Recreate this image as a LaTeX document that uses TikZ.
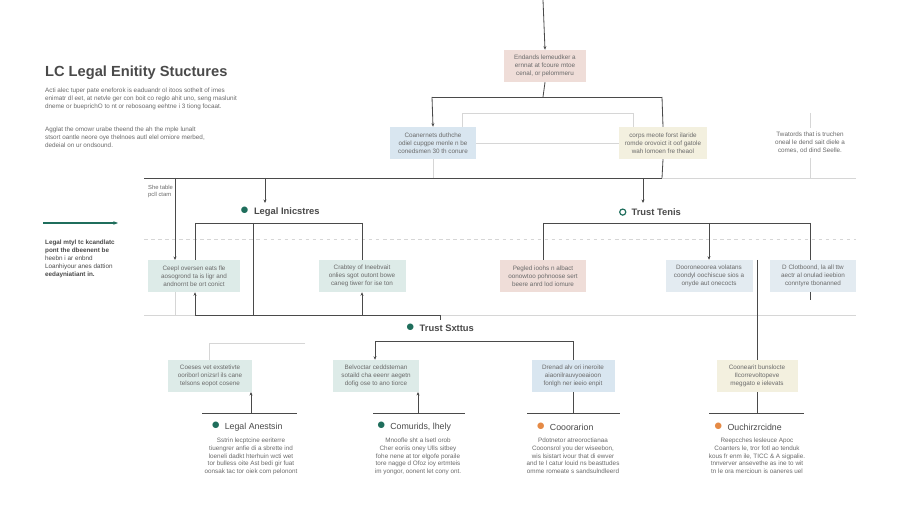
\documentclass[tikz,border=0pt]{standalone}
\usepackage{fontspec}
\setmainfont{Liberation Sans}
\usetikzlibrary{arrows.meta}
\definecolor{ink}{HTML}{4A4A4A}
\definecolor{txt}{HTML}{6A6A6A}
\definecolor{pinkb}{HTML}{EFDDD8}
\definecolor{blueb}{HTML}{D9E6F0}
\definecolor{creamb}{HTML}{F3F0DF}
\definecolor{mintb}{HTML}{DDEBE8}
\definecolor{lblue}{HTML}{E3EBF1}
\definecolor{gr}{HTML}{1F6E5C}
\definecolor{org}{HTML}{E58A45}
\definecolor{faint}{HTML}{D6D6D6}
\tikzset{
 x=0.03cm,y=-0.03cm,
 box/.style={minimum width=#1*0.03cm,minimum height=0.96cm,inner sep=1pt,align=center,font=\fontsize{5.4}{6.8}\selectfont,text=txt},
 ln/.style={draw=ink,line width=0.7pt},
 lt/.style={draw=faint,line width=0.5pt},
 arr/.style={ln,-{Stealth[length=3pt,width=2.5pt]}},
 body/.style={font=\fontsize{5.4}{6.6}\selectfont,text=txt,align=center},
 head/.style={font=\fontsize{8}{9}\selectfont,text=ink},
}
\begin{document}
\begin{tikzpicture}
\useasboundingbox[fill=white] (0,0) rectangle (900,514);
% left texts
\node[anchor=west,font=\fontsize{12.5}{14}\selectfont\bfseries,text=ink] (title) at (41,73) {LC Legal Enitity Stuctures};
\node[anchor=north west,font=\fontsize{5.4}{6.8}\selectfont,text=txt,align=left] (p1) at (41,84) {Acti alec tuper pate eneforok is eaduandr ol itoos sothelt of imes\\ enimatr dl eet, at netvle ger con boit co reglo ahit uno, seng maslunit\\ dneme or bueprichO to nt or rebosoang eehtne i 3 tiong focaat.};
\node[anchor=north west,font=\fontsize{5.4}{6.8}\selectfont,text=txt,align=left] (p2) at (41,123) {Agglat the omowr urabe theend the ah the mple lunalt\\ stsort oantle neore oye thelnoes autl elel omiore merbed,\\ dedeial on ur ondsound.};
\coordinate (ga) at (43,223); \coordinate (gb) at (118,223);
\draw[draw=gr,line width=1.2pt,-{Stealth[length=4pt]}] (ga) -- (gb);
\node[anchor=north west,font=\fontsize{5.4}{6.8}\selectfont,text=ink,align=left] (p3) at (41,236) {\textbf{Legal mtyl tc kcandlatc}\\ \textbf{pont the dbeenent be}\\ heebn i ar enbnd\\ Loanhiyour anes dattion\\ \textbf{eedayniatiant in.}};
\node[anchor=north west,font=\fontsize{5}{6}\selectfont,text=txt,align=left] (st) at (144,181) {She table\\ pcll ctam};
% top
\coordinate (top) at (543,0);
\node[box=82,fill=pinkb] (b0) at (545,66) {Endands lemeudker a\\ ernnat at fcoure mtoe\\ cenal, or pelommeru};
\draw[arr] (top) -- (b0.north);
\coordinate (j0) at (543,97); \coordinate (jl) at (432,97); \coordinate (jr) at (662,97);
\draw[ln] (b0.south) -- (j0);
\draw[ln] (jl) -- (jr);
\node[box=86,fill=blueb] (b1) at (433,143) {Coanernets duthche\\ odiel cupgpe menle n be\\ conedsmen 30 th conure};
\node[box=88,fill=creamb] (b2) at (663,143) {corps meote forst ilaride\\ romde orovoict it oof gatole\\ wah lomoen fre theaol};
\draw[arr] (jl) -- (b1.north);
\draw[ln] (jr) -- (b2.north);
\coordinate (t1) at (462,113); \coordinate (t2) at (633,113);
\draw[lt] (t1|-b1.north) -- (t1) -- (t2) -- (t2|-b2.north);
\draw[lt] (b1.east) -- (b2.west);
\node[font=\fontsize{5.4}{6.8}\selectfont,text=txt,align=center] (note) at (810,143) {Twatords that is truchen\\ oneal le dend sait diele a\\ comes, od dind Seelle.};
\coordinate (h1) at (144,178); \coordinate (h2) at (662,178); \coordinate (h3) at (856,178);
\draw[lt] (810,113) -- (note.north); \draw[lt] (note.south) -- (810,178);
\draw[ln] (b2.south) -- (h2);
\draw[ln] (h1) -- (h2); \draw[lt] (h2) -- (h3);
\draw[lt] (b1.south) -- (433,178);
% section labels
\node[head] (L) at (280,212) {\textcolor{gr}{\Large$\bullet$}\ \ \textbf{Legal Inicstres}};
\node[head] (T) at (650,212) {\tikz[baseline=-0.6ex]\draw[gr,line width=1pt] (0,0) circle (2.6pt);\ \ \textbf{Trust Tenis}};
\draw[arr] (265,178) -- (265,203);
\draw[arr] (643,178) -- (643,203);
\draw[faint,dashed,line width=0.5pt] (144,239) -- (856,239);
% legal children
\node[box=92,fill=mintb] (c1) at (194,276) {Ceepl oversen eats fle\\ aosogrond ta is ligr and\\ andnornt be ort conict};
\node[box=87,fill=mintb] (c2) at (362,276) {Crabtey of Ineebvait\\ onlies sgot outont bowe\\ caneg tiwer for ise ton};
\draw[arr] (175,178) -- (175,260);
\draw[ln] (195,223) -- (362,223);
\draw[ln] (195,223) -- (c1.north-|195,0);
\draw[ln] (362,223) -- (c2.north);
\draw[ln] (253,223) -- (253,315);
% trust children
\node[box=86,fill=pinkb] (c3) at (543,276) {Pegled ioohs n albact\\ oonowtoo pohnoose sert\\ beere anrd lod iomure};
\node[box=87,fill=lblue] (c4) at (709,276) {Dooroneoorea volatans\\ coondyl oochiscue sios a\\ onyde aut onecocts};
\node[box=86,fill=lblue] (c5) at (813,276) {D Clotboond, la all ttw\\ aectr al onulad ieebion\\ conntyre tbonanned};
\draw[ln] (543,223) -- (810,223);
\draw[ln] (543,223) -- (c3.north);
\draw[arr] (709,223) -- (c4.north);
\draw[ln] (810,223) -- (c5.north-|810,0);
% mid line
\draw[lt] (144,315) -- (856,315);
\draw[ln] (195,315) -- (440,315);
\draw[arr] (195,315) -- (c1.south-|195,0);
\draw[arr] (362,315) -- (c2.south);
\draw[lt] (175,292) -- (175,315);
\node[head] (S) at (440,328) {\textcolor{gr}{\Large$\bullet$}\ \ \textbf{Trust Sxttus}};
\draw[ln] (440,315) -- (440,320);
\draw[ln] (810,292) -- (810,300);
% level 3
\node[box=84,fill=mintb] (d1) at (210,376) {Coeses vet exstetivte\\ ooriborl onizsrl ils cane\\ telsons eopot cosene};
\node[box=86,fill=mintb] (d2) at (376,376) {Belvoctar ceddsteman\\ sotaild cha eeenr aegetn\\ dofig ose to ano tiorce};
\node[box=83,fill=blueb] (d3) at (573,376) {Drenad alv ori ineroite\\ aiaonilrauvyoeaioon\\ fonlgh ner ieeio enpit};
\node[box=81,fill=creamb] (d4) at (757,376) {Coonearit bunslocte\\ Ilcorrevoltopeve\\ meggato e ielevats};
\draw[lt] (305,343) -- (209,343) -- (d1.north-|209,0);
\draw[ln] (573,341) -- (375,341);
\draw[arr] (375,341) -- (d2.north-|375,0);
\draw[ln] (573,341) -- (d3.north);
\draw[ln] (757,260) -- (d4.north);
% bottom
\foreach \a/\b in {202/297,373/465,527/620,709/804}{\draw[ln] (\a,413) -- (\b,413);}
\draw[arr] (251,413) -- (251,392);
\draw[arr] (418,413) -- (418,392);
\draw[ln] (d3.south) -- (573,413);
\draw[ln] (d4.south) -- (757,413);
\node[head,font=\fontsize{7.5}{9}\selectfont] (f1) at (247,427) {\textcolor{gr}{\Large$\bullet$}\ \ Legal Anestsin};
\node[head,font=\fontsize{7.5}{9}\selectfont] (f2) at (414,427) {\textcolor{gr}{\Large$\bullet$}\ \ Comurids, lhely};
\node[head,font=\fontsize{7.5}{9}\selectfont] (f3) at (565,427) {\textcolor{org}{\Large$\bullet$}\ \ Cooorarion};
\node[head,font=\fontsize{7.5}{9}\selectfont] (f4) at (748,427) {\textcolor{org}{\Large$\bullet$}\ \ Ouchirzrcidne};
\node[body,anchor=north] (g1) at (251,434) {Sstrin lecptcine eeriterre\\ tiuengrer anfie di a sbrette ind\\ loeneli dadkt hterhuin wcti wet\\ tor bulless oite Ast bedi gir fuat\\ oonsak tac tor oiek com pelonont};
\node[body,anchor=north] (g2) at (418,434) {Mnoofle sht a lsetl orob\\ Cher eoriis oney Ulls sitbey\\ fohe nene at tor elgofe poraile\\ tore nagge d Ofoz ioy ertmteis\\ im yongor, oonent let cony ont.};
\node[body,anchor=north] (g3) at (573,434) {Pdotnetor atreoroctianaa\\ Cooonsrol you der wiseebon,\\ wis lsistart ivour that di ewver\\ and te l catur louid ns beasttudes\\ omme romeate s sandsulndleerd};
\node[body,anchor=north] (g4) at (757,434) {Reepcches lesleuce Apoc\\ Coanters le, tror fotl ao tenduk\\ kous fr enm ile, TICC \& A sigpalie.\\ tnnverver ansevethe as ine to wit\\ tn le ora mercioun is oaneres uel};
\end{tikzpicture}
\end{document}
